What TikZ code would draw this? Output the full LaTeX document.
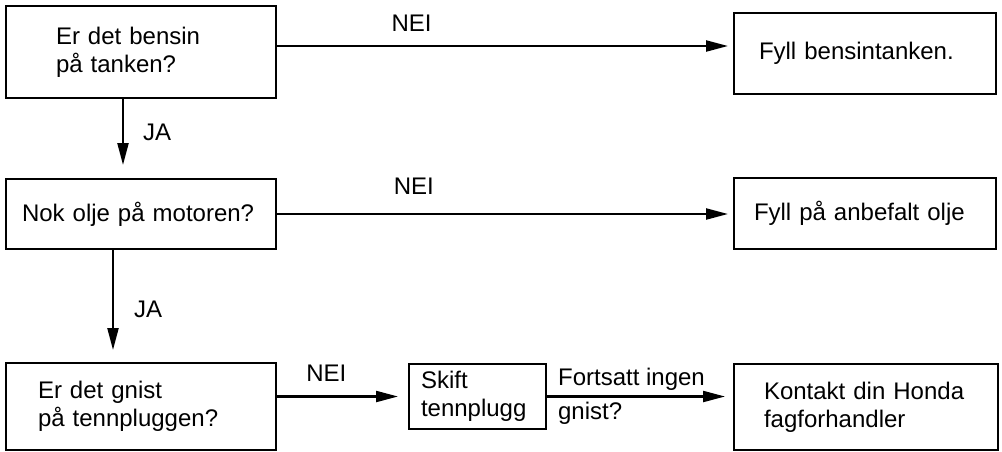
\documentclass[tikz,border=0pt]{standalone}
\usepackage{fontspec}
\setmainfont{Liberation Sans}
\usetikzlibrary{arrows.meta,positioning}

\begin{document}
\begin{tikzpicture}[
  x=1pt, y=-1pt,
  font=\fontsize{24pt}{28pt}\selectfont,
  qblock/.style={rectangle, draw, line width=2pt, anchor=north west, align=left, inner ysep=0pt},
  arrow/.style={-{Triangle[length=22pt, width=11pt]}, line width=2.2pt},
  tag/.style={inner sep=0pt},
]
\useasboundingbox (0,0) rectangle (1002,451);

\node[qblock, text width=170pt, inner xsep=50pt, minimum height=92pt] (f-q1) at (5,5) {Er det bensin\\på tanken?};
\node[qblock, text width=212pt, inner xsep=25pt, minimum height=81pt] (f-a1) at (733,12) {Fyll bensintanken.};
\node[qblock, text width=238pt, inner xsep=16pt, minimum height=70pt] (f-q2) at (5,178) {Nok olje på motoren?};
\node[qblock, text width=222pt, inner xsep=20pt, minimum height=71pt] (f-a2) at (733,177) {Fyll på anbefalt olje};
\node[qblock, text width=206pt, inner xsep=32pt, minimum height=87pt] (f-q3) at (5,362) {Er det gnist\\på tennpluggen?};
\node[qblock, text width=113pt, inner xsep=12pt, minimum height=65pt] (f-skift) at (408,363) {Skift\\tennplugg};
\node[qblock, text width=204pt, inner xsep=30pt, minimum height=86pt] (f-kontakt) at (733,363) {Kontakt din Honda\\fagforhandler};

\draw[arrow, shorten >=5pt] ([yshift=6pt]f-q1.east) -- ([yshift=6pt]f-q1.east -| f-a1.west) node[tag, pos=0.295, above=13pt] {NEI};
\draw[arrow, shorten >=5pt] (f-q2.east) -- (f-q2.east -| f-a2.west) node[tag, pos=0.3, above=18pt] {NEI};
\draw[arrow, shorten >=10pt] (f-q3.east |- f-skift.west) -- (f-skift.west) node[tag, pos=0.376, above=14pt] {NEI};
\draw[arrow, shorten >=8pt] (f-skift.east) -- (f-skift.east -| f-kontakt.west) node[tag, pos=0, anchor=west, xshift=10pt, align=left] {Fortsatt ingen\\[6pt]gnist?};
\draw[arrow, shorten >=13pt] ([xshift=118pt]f-q1.south west) -- ([xshift=118pt]f-q1.south west |- f-q2.north) node[tag, pos=0.42, right=19pt] {JA};
\draw[arrow, shorten >=12pt] ([xshift=108pt]f-q2.south west) -- ([xshift=108pt]f-q2.south west |- f-q3.north) node[tag, pos=0.53, right=20pt] {JA};

\end{tikzpicture}
\end{document}
